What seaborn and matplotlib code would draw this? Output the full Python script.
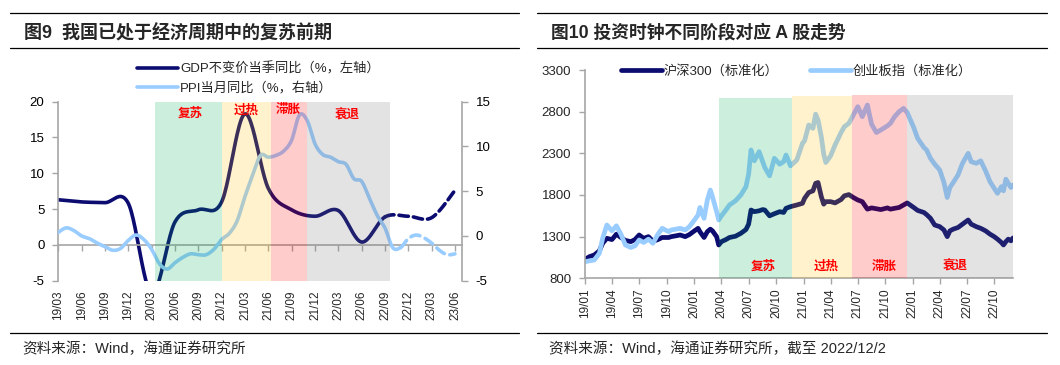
import numpy as np
import pandas as pd
import matplotlib
matplotlib.use('Agg')
import matplotlib.pyplot as plt
import matplotlib.dates as mdates
from matplotlib.lines import Line2D
import seaborn as sns

sns.set_theme(style='white')
plt.rcParams['font.family'] = ['Liberation Sans', 'Noto Sans CJK SC']
plt.rcParams['axes.unicode_minus'] = False

# ---------------- 图9 数据 ----------------
quarter_labels = ['19/03', '19/06', '19/09', '19/12', '20/03', '20/06', '20/09', '20/12',
                  '21/03', '21/06', '21/09', '21/12', '22/03', '22/06', '22/09', '22/12',
                  '23/03', '23/06']
gdp = [6.3, 6.0, 5.9, 5.8, -6.8, 3.2, 4.9, 6.0, 18.3, 7.9, 4.9, 4.0, 4.8, 0.4, 3.9,
       4.0, 3.8, 7.6]
gdp_last_actual = '22/09'
# PPI 月度, 2019/03 - 2023/06
ppi = [0.4, 0.9, 0.6, 0.0, -0.3, -0.8, -1.2, -1.6, -1.4, -0.5,
       0.1, -0.4, -1.5, -3.1, -3.7, -3.0, -2.4, -2.0, -2.1, -2.1, -1.5, -0.4,
       0.3, 1.7, 4.4, 6.8, 9.0, 8.8, 9.0, 9.5, 10.7, 13.5, 12.9, 10.3,
       9.1, 8.8, 8.3, 8.0, 6.4, 6.1, 4.2, 2.3, 0.9, -1.3, -1.3, -0.3,
       0.1, -0.2, -0.8, -1.6, -2.1, -2.0]
ppi_last_actual = 44          # 2022/11 之后为预测
# 阶段边界(以 2019/03 起的月数计)
phase_names = ['复苏', '过热', '滞胀', '衰退']
phase_edges_m = [12.4, 21.1, 27.3, 32.0, 42.6]
phase_label_m = [16.9, 24.2, 29.6, 37.1]
phase_label_y = [0.931, 0.953, 0.953, 0.922]

# ---------------- 图10 数据 ----------------
stock_dates = [
    '2019-01-02', '2019-01-16', '2019-02-01', '2019-02-18', '2019-03-01', '2019-03-15',
    '2019-04-01', '2019-04-16', '2019-05-01', '2019-05-16', '2019-06-03', '2019-06-17',
    '2019-07-01', '2019-07-16', '2019-08-01', '2019-08-16', '2019-09-02', '2019-09-16',
    '2019-10-08', '2019-10-16', '2019-11-01', '2019-11-15', '2019-12-02', '2019-12-16',
    '2020-01-02', '2020-01-14', '2020-01-20', '2020-02-03', '2020-02-14', '2020-02-24',
    '2020-03-02', '2020-03-16', '2020-03-23', '2020-04-01', '2020-04-16', '2020-04-28',
    '2020-05-18', '2020-06-05', '2020-06-22', '2020-07-01', '2020-07-09', '2020-07-20',
    '2020-08-05', '2020-08-17', '2020-08-24', '2020-09-09', '2020-09-25', '2020-10-13',
    '2020-10-26', '2020-11-03', '2020-11-18', '2020-12-09', '2020-12-28', '2021-01-04',
    '2021-01-18', '2021-02-01', '2021-02-10', '2021-02-18', '2021-03-01', '2021-03-09',
    '2021-03-16', '2021-04-01', '2021-04-16', '2021-05-06', '2021-05-17', '2021-06-01',
    '2021-06-16', '2021-07-01', '2021-07-16', '2021-08-02', '2021-08-16', '2021-09-01',
    '2021-09-16', '2021-10-08', '2021-10-18', '2021-11-01', '2021-11-16', '2021-12-01',
    '2021-12-13', '2022-01-04', '2022-01-17', '2022-02-07', '2022-02-16', '2022-03-01',
    '2022-03-15', '2022-04-01', '2022-04-15', '2022-04-26', '2022-05-05', '2022-05-16',
    '2022-06-01', '2022-06-16', '2022-07-05', '2022-07-15', '2022-08-01', '2022-08-16',
    '2022-09-01', '2022-09-16', '2022-09-30', '2022-10-11', '2022-10-24', '2022-10-31',
    '2022-11-08', '2022-11-16', '2022-11-25', '2022-12-02']
hs300 = [
    1030, 1060, 1080, 1130, 1220, 1280, 1265, 1330, 1290, 1255, 1240, 1265,
    1320, 1280, 1300, 1245, 1265, 1290, 1290, 1300, 1310, 1320, 1300, 1325,
    1370, 1400, 1360, 1290, 1360, 1390, 1370, 1300, 1200, 1240, 1265, 1290,
    1305, 1340, 1385, 1450, 1620, 1600, 1610, 1625, 1620, 1550, 1575, 1600,
    1590, 1640, 1660, 1680, 1700, 1760, 1830, 1850, 1940, 1950, 1780, 1690,
    1720, 1720, 1705, 1745, 1790, 1805, 1770, 1740, 1720, 1630, 1645, 1635,
    1625, 1645, 1630, 1640, 1650, 1680, 1705, 1650, 1615, 1590, 1565, 1520,
    1440, 1420, 1380, 1300, 1370, 1390, 1410, 1450, 1500, 1450, 1420, 1400,
    1370, 1330, 1300, 1270, 1230, 1200, 1240, 1270, 1250, 1285]
cyb = [
    1000, 1010, 1020, 1100, 1280, 1440, 1370, 1430, 1330, 1200, 1170, 1190,
    1260, 1230, 1270, 1220, 1330, 1400, 1360, 1380, 1390, 1400, 1380, 1420,
    1500, 1560, 1650, 1520, 1740, 1860, 1780, 1600, 1500, 1550, 1620, 1680,
    1730, 1800, 1900, 2050, 2340, 2210, 2320, 2200, 2130, 2030, 2240, 2170,
    2200, 2280, 2150, 2220, 2420, 2450, 2640, 2600, 2770, 2700, 2500, 2290,
    2190, 2270, 2400, 2550, 2620, 2660, 2760, 2860, 2740, 2880, 2650, 2550,
    2580, 2630, 2660, 2740, 2800, 2840, 2790, 2610, 2480, 2370, 2340, 2240,
    2170, 2100, 1950, 1770, 1890, 1950, 2040, 2180, 2300, 2200, 2180, 2210,
    2090, 1960, 1880, 1820, 1900, 1850, 1990, 1940, 1890, 1920]
stock_phase_edges = ['2020-03-25', '2020-11-23', '2021-06-11', '2021-12-11', '2022-12-02']
stock_phase_top = [2970, 2985, 3000, 3000]
stock_label_dates = ['2020-08-19', '2021-03-19', '2021-09-28', '2022-05-22']
stock_label_y = 940

phase_colors = ['#00AA55', '#FFBE00', '#FF0000', '#737373']
navy = '#0B0B70'
light = '#99CCFF'
grey = '#A6A6A6'


def smooth(x, y, n=24):
    # Catmull-Rom 平滑(与 Excel 平滑线类似)
    x = np.asarray(x, float)
    y = np.asarray(y, float)
    px = np.r_[x[0], x, x[-1]]
    py = np.r_[y[0], y, y[-1]]
    t = np.linspace(0, 1, n, endpoint=False)
    xs, ys = [], []
    for i in range(1, len(x)):
        for p, out in ((px, xs), (py, ys)):
            p0, p1, p2, p3 = p[i - 1], p[i], p[i + 1], p[i + 2]
            out.append(0.5 * (2 * p1 + (-p0 + p2) * t + (2 * p0 - 5 * p1 + 4 * p2 - p3) * t ** 2
                              + (-p0 + 3 * p1 - 3 * p2 + p3) * t ** 3))
    xs.append([x[-1]])
    ys.append([y[-1]])
    return np.concatenate(xs), np.concatenate(ys)


fig = plt.figure(figsize=(10.6, 3.65), dpi=100)

# ================= 图9 =================
ax = fig.add_axes([0.0550, 0.2310, 0.3808, 0.4904])
ax2 = ax.twinx()

q_pos = np.arange(len(quarter_labels)) * 3
m_pos = np.arange(len(ppi))
gx, gy = smooth(q_pos, gdp)
px_, py_ = smooth(m_pos, ppi)
g_cut = q_pos[quarter_labels.index(gdp_last_actual)]

sns.lineplot(x=gx[gx <= g_cut], y=gy[gx <= g_cut], ax=ax, color=navy, lw=2.6,
             sort=False, estimator=None, legend=False,
             label='GDP不变价当季同比（%，左轴）', solid_capstyle='round')
sns.lineplot(x=gx[gx >= g_cut], y=gy[gx >= g_cut], ax=ax, color=navy, lw=2.6,
             sort=False, estimator=None, legend=False,
             linestyle=(0, (2.6, 1.4)), dash_capstyle='round')
sns.lineplot(x=px_[px_ <= ppi_last_actual], y=py_[px_ <= ppi_last_actual], ax=ax2,
             color=light, lw=2.6, sort=False, estimator=None, legend=False,
             label='PPI当月同比（%，右轴）', solid_capstyle='round')
sns.lineplot(x=px_[px_ >= ppi_last_actual], y=py_[px_ >= ppi_last_actual], ax=ax2,
             color=light, lw=2.6, sort=False, estimator=None, legend=False,
             linestyle=(0, (2.6, 1.6)), dash_capstyle='round')

for i in range(len(phase_names)):
    ax2.axvspan(phase_edges_m[i], phase_edges_m[i + 1], color=phase_colors[i],
                alpha=0.2, lw=0, zorder=5)
    ax2.text(phase_label_m[i], phase_label_y[i], phase_names[i], color='#FF0000',
             fontsize=9, fontweight='bold', ha='center', va='center',
             transform=ax2.get_xaxis_transform(), zorder=6)

ax.set_xlim(0, 51.9)
ax.set_ylim(-5, 20)
ax2.set_ylim(-5, 15)
ax.set_yticks(range(-5, 21, 5))
ax2.set_yticks(range(-5, 16, 5))
ax.set_xlabel('')
ax.set_ylabel('')
ax2.set_ylabel('')

for s in ['top', 'right']:
    ax.spines[s].set_visible(False)
for s in ['top', 'left', 'bottom']:
    ax2.spines[s].set_visible(False)
ax.spines['bottom'].set_position(('data', 0))
for sp in (ax.spines['left'], ax.spines['bottom'], ax2.spines['right']):
    sp.set_color(grey)
    sp.set_linewidth(1.2)

ax.set_xticks(q_pos)
ax.tick_params(axis='x', bottom=True, direction='out', length=4, width=1, color=grey,
               labelbottom=False)
ax.tick_params(axis='y', left=True, direction='out', length=4, width=1, color=grey,
               labelsize=9.5, pad=6, labelcolor='black')
ax2.tick_params(axis='y', right=True, direction='out', length=4, width=1, color=grey,
                labelsize=9.5, pad=6, labelcolor='black')

sec = ax.secondary_xaxis('bottom')
sec.set_xticks(q_pos, labels=quarter_labels, rotation=90)
sec.tick_params(length=0, pad=7, labelsize=8.5)
sec.spines['bottom'].set_visible(False)

h1, l1 = ax.get_legend_handles_labels()
h2, l2 = ax2.get_legend_handles_labels()
ax2.legend(h1 + h2, l1 + l2, loc='upper left', bbox_to_anchor=(0.129, 0.83),
           bbox_transform=fig.transFigure, frameon=False, fontsize=9.5,
           handlelength=3.1, handletextpad=0.2, labelspacing=0.45,
           borderpad=0, borderaxespad=0)

# ================= 图10 =================
ax3 = fig.add_axes([0.5519, 0.2375, 0.4038, 0.5707])
sd = pd.to_datetime(stock_dates)
sns.lineplot(x=sd, y=hs300, ax=ax3, color=navy, lw=3.4, estimator=None,
             legend=False, label='沪深300（标准化）')
sns.lineplot(x=sd, y=cyb, ax=ax3, color=light, lw=3.4, estimator=None,
             legend=False, label='创业板指（标准化）')

edges = pd.to_datetime(stock_phase_edges)
for i in range(len(phase_names)):
    ax3.fill_between([edges[i], edges[i + 1]], 800, stock_phase_top[i],
                     color=phase_colors[i], alpha=0.2, lw=0, zorder=5)
    ax3.text(pd.Timestamp(stock_label_dates[i]), stock_label_y, phase_names[i],
             color='#FF0000', fontsize=9, fontweight='bold', ha='center', va='center',
             zorder=6)

ax3.set_xlim(pd.Timestamp('2019-01-01'), edges[-1])
ax3.set_ylim(800, 3300)
ax3.set_yticks(range(800, 3301, 500))
ax3.set_xlabel('')
ax3.set_ylabel('')
ax3.xaxis.set_major_locator(mdates.MonthLocator(bymonth=[1, 4, 7, 10]))
ax3.xaxis.set_major_formatter(mdates.DateFormatter('%y/%m'))
ax3.tick_params(axis='x', bottom=True, direction='out', length=4, width=1, color=grey,
                labelsize=8.5, pad=3, labelrotation=90)
ax3.tick_params(axis='y', left=True, direction='out', length=4, width=1, color=grey,
                labelsize=9.5, pad=6)
for s in ['top', 'right']:
    ax3.spines[s].set_visible(False)
for s in ['left', 'bottom']:
    ax3.spines[s].set_color(grey)
    ax3.spines[s].set_linewidth(1.2)

h3, l3 = ax3.get_legend_handles_labels()
ax3.legend(h3, l3, ncol=2, loc='upper left', bbox_to_anchor=(0.5855, 0.822),
           bbox_transform=fig.transFigure, frameon=False, fontsize=9.5,
           handlelength=3.1, handletextpad=0.15, columnspacing=2.4,
           borderpad=0, borderaxespad=0)

# ================= 标题/来源/分隔线 =================
for x0, x1 in ((0.0094, 0.490), (0.507, 0.9877)):
    for yy in (0.9636, 0.8677, 0.0885):
        fig.add_artist(Line2D([x0, x1], [yy, yy], color='black', lw=0.9,
                              transform=fig.transFigure))

fig.text(0.0224, 0.9096, '图9  我国已处于经济周期中的复苏前期', fontsize=13,
         fontweight='bold', va='center', ha='left')
fig.text(0.5198, 0.9096, '图10 投资时钟不同阶段对应 A 股走势', fontsize=12.8,
         fontweight='bold', va='center', ha='left')
fig.text(0.0208, 0.0457, '资料来源：Wind，海通证券研究所', fontsize=10.5,
         va='center', ha='left')
fig.text(0.5175, 0.0457, '资料来源：Wind，海通证券研究所，截至 2022/12/2', fontsize=10.5,
         va='center', ha='left')

fig.savefig('out.png', dpi=100)
